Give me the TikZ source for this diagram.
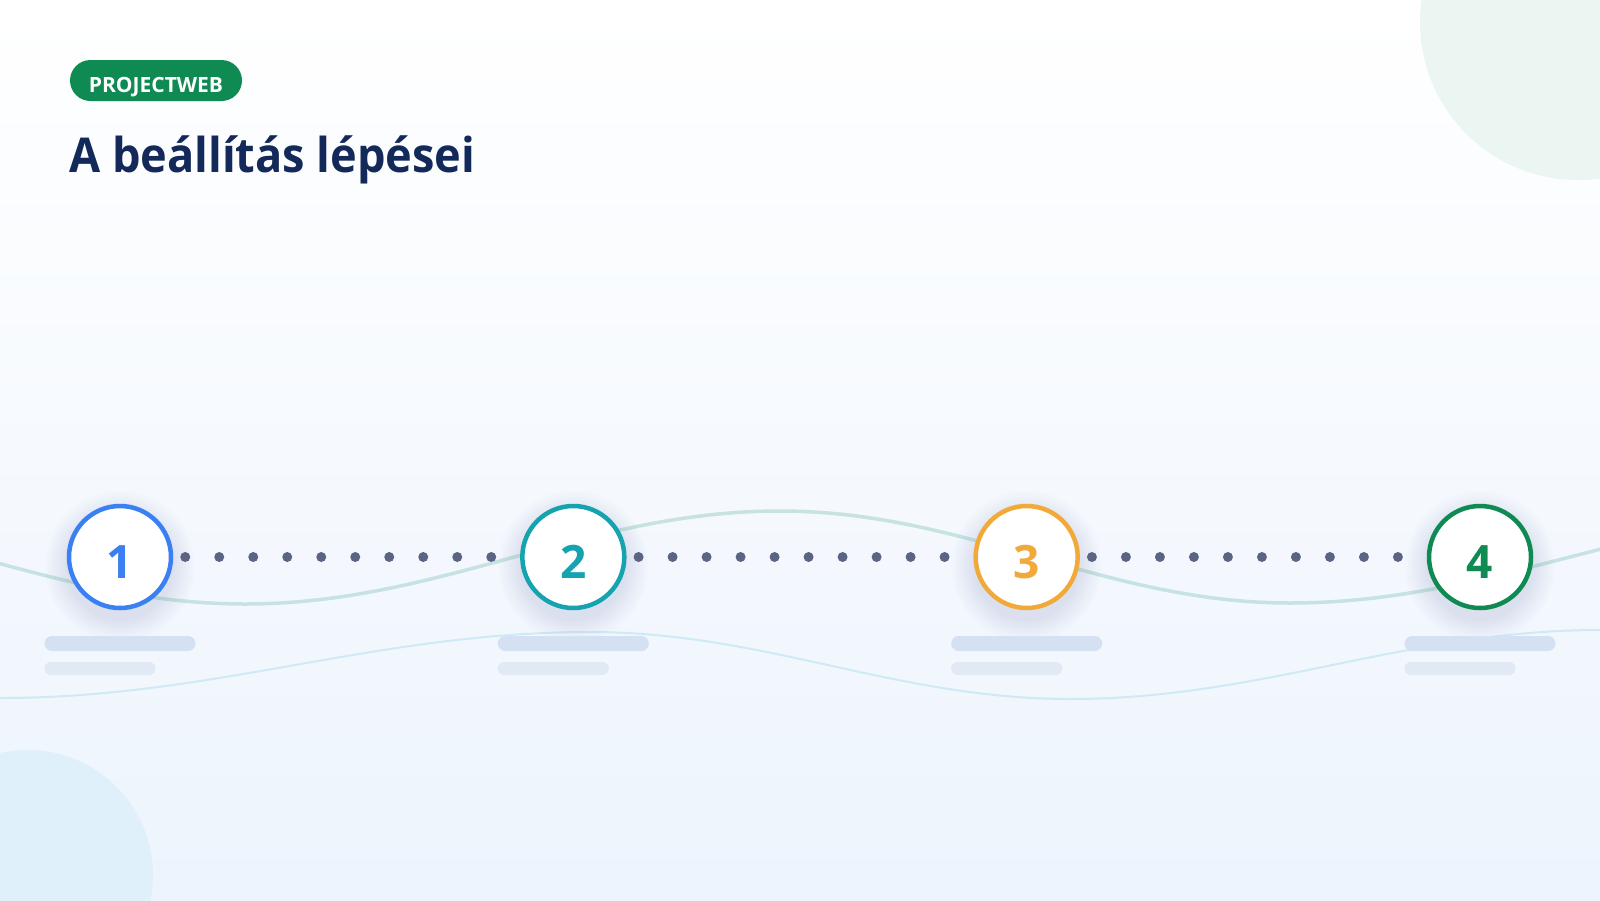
\documentclass[tikz,border=0pt]{standalone}
\usepackage{fontspec}
\setmainfont{Open Sans}
\definecolor{bgtop}{HTML}{FFFFFF}
\definecolor{bgbot}{HTML}{EDF4FD}
\definecolor{navy}{HTML}{13295A}
\definecolor{pgreen}{HTML}{0E8A52}
\definecolor{pblue}{HTML}{3B80F2}
\definecolor{pteal}{HTML}{16A3B0}
\definecolor{porange}{HTML}{F1A93A}
\definecolor{dotc}{HTML}{5B6583}
\definecolor{waveA}{HTML}{C6E2E1}
\definecolor{waveB}{HTML}{CDEAF5}
\definecolor{barA}{HTML}{D3E1F2}
\definecolor{barB}{HTML}{E1E9F4}
\definecolor{blobTR}{HTML}{EBF5F2}
\definecolor{blobBL}{HTML}{DFF0FA}
\definecolor{shadowc}{HTML}{6A7A99}
\tikzset{
  stepcircle/.style={circle, draw=#1, fill=white, line width=4.5pt, minimum size=102pt, inner sep=0pt},
  stepnum/.style={text=#1, font=\bfseries\fontsize{46}{46}\selectfont, inner sep=0pt, anchor=base},
  dotline/.style={dotc, line width=10pt, line cap=round, dash pattern=on 0pt off 34pt},
  barone/.style={fill=barA, rounded corners=7.5pt},
  bartwo/.style={fill=barB, rounded corners=6.5pt},
}
\begin{document}
\begin{tikzpicture}[x=1pt,y=-1pt]
\useasboundingbox (0,0) rectangle (1600,900);
% background
\shade[top color=bgtop, bottom color=bgbot] (0,0) rectangle (1600,900);
\begin{scope}
\clip (0,0) rectangle (1600,900);
% decorative blobs
\fill[blobTR] (1578,22) circle[radius=158];
\fill[blobBL] (28,875) circle[radius=125];
% waves
\draw[waveA, line width=3.5pt] (-290,511) .. controls (-95,511) and (50,604) .. (245,604)
  .. controls (440,604) and (585,511) .. (780,511)
  .. controls (966,511) and (1104,603) .. (1290,603)
  .. controls (1494,603) and (1646,511) .. (1850,511);
\draw[waveB, line width=2pt] (-300,632) .. controls (-109,632) and (-191,698) .. (0,698)
  .. controls (215,698) and (375,632) .. (590,632)
  .. controls (765,632) and (895,699) .. (1070,699)
  .. controls (1263,699) and (1407,630) .. (1600,630)
  .. controls (1700,630) and (1750,650) .. (1800,660);
\end{scope}
% badge and title
\fill[pgreen, rounded corners=20.5pt] (70,60) rectangle (242,101);
\node[text=white, font=\bfseries\fontsize{21}{21}\selectfont, inner sep=0pt, anchor=base] (badge) at (156,92.7) {PROJECTWEB};
\node[text=navy, font=\bfseries\fontsize{48}{48}\selectfont, inner sep=0pt, anchor=base west, xscale=0.94] (title) at (69,172) {A beállítás lépései};
% shadows, bars
\foreach \cx in {120,573.33,1026.67,1480}{
  \foreach \r in {54,57,...,75}{
    \fill[shadowc, opacity=0.018] (\cx,566) circle[radius=\r];
  }
  \fill[barone] (\cx-75.5,636) rectangle (\cx+75.5,651);
  \fill[bartwo] (\cx-75.5,662) rectangle (\cx+35.5,675);
}
% step circles
\node[stepcircle=pblue] (s1) at (120,557) {};
\node[stepcircle=pteal] (s2) at (573.33,557) {};
\node[stepcircle=porange] (s3) at (1026.67,557) {};
\node[stepcircle=pgreen] (s4) at (1480,557) {};
\node[stepnum=pblue] (n1) at (120,578) {1};
\node[stepnum=pteal] (n2) at (573.33,578) {2};
\node[stepnum=porange] (n3) at (1026.67,578) {3};
\node[stepnum=pgreen] (n4) at (1480,578) {4};
% dotted connectors
\draw[dotline] ([xshift=12pt]s1.east) -- (s2.west);
\draw[dotline] ([xshift=12pt]s2.east) -- (s3.west);
\draw[dotline] ([xshift=12pt]s3.east) -- (s4.west);
\end{tikzpicture}
\end{document}
